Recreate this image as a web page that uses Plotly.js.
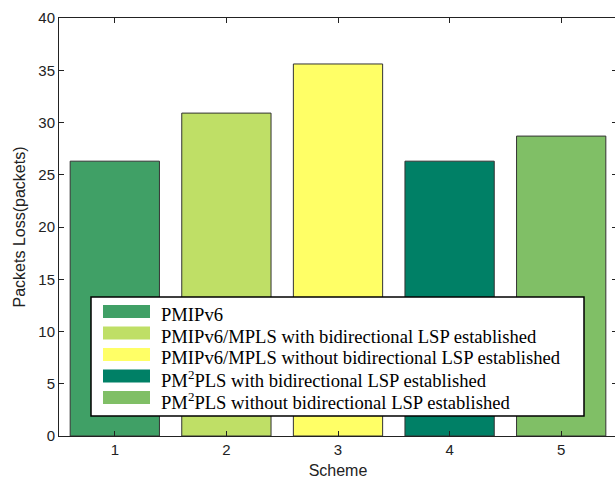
<!DOCTYPE html>
<html>
<head>
<meta charset="utf-8">
<script src="https://cdn.plot.ly/plotly-3.0.1.min.js"></script>
<style>
html,body{margin:0;padding:0;overflow:hidden;background:#fff;}
#chart{width:620px;height:479px;}
</style>
</head>
<body>
<div id="chart"></div>
<script>
// ---- data ----
const schemes = [1, 2, 3, 4, 5];
const seriesNames = [
  'PMIPv6',
  'PMIPv6/MPLS with bidirectional LSP established',
  'PMIPv6/MPLS without bidirectional LSP established',
  'PM<sup>2</sup>PLS with bidirectional LSP established',
  'PM<sup>2</sup>PLS without bidirectional LSP established'
];
const packetLoss = [26.3, 30.9, 35.6, 26.3, 28.7];
const barColors = ['#40a066', '#bfdf66', '#ffff66', '#008066', '#80bf66'];
const yTicks = [0, 5, 10, 15, 20, 25, 30, 35, 40];

// ---- geometry helpers (plot area in pixels) ----
const W = 620, H = 479;
const M = {l: 59, r: 3, t: 18, b: 43};
const PW = W - M.l - M.r, PH = H - M.t - M.b;
const px2x = p => (p - M.l) / PW;
const px2y = p => (H - M.b - p) / PH;

const traces = schemes.map((s, i) => ({
  type: 'bar',
  x: [s],
  y: [packetLoss[i]],
  width: 0.8,
  name: seriesNames[i],
  marker: {color: barColors[i], line: {color: '#333333', width: 1}},
  showlegend: false,
  hoverinfo: 'x+y'
}));

// custom legend (box, swatches, labels)
const shapes = [{
  type: 'rect', xref: 'paper', yref: 'paper',
  x0: px2x(91), x1: px2x(584), y0: px2y(297), y1: px2y(416),
  fillcolor: '#ffffff', line: {color: '#000000', width: 1.5}, layer: 'above'
}];
const annotations = [];
const rowY = [311.5, 333, 354.5, 376, 397.5];
seriesNames.forEach((n, i) => {
  shapes.push({
    type: 'rect', xref: 'paper', yref: 'paper',
    x0: px2x(103), x1: px2x(150), y0: px2y(rowY[i] - 6.5), y1: px2y(rowY[i] + 6.5),
    fillcolor: barColors[i], line: {width: 0}, layer: 'above'
  });
  annotations.push({
    xref: 'paper', yref: 'paper', x: px2x(159), y: px2y(rowY[i] + 3),
    xanchor: 'left', yanchor: 'middle', showarrow: false, text: n,
    font: {family: 'Liberation Serif, Times New Roman, serif', size: 18.6, color: '#000'}
  });
});

const axisCommon = {
  showline: true, linecolor: '#222', linewidth: 1, mirror: 'ticks',
  ticks: 'inside', ticklen: 5, tickcolor: '#222', showgrid: false, zeroline: false,
  tickfont: {family: 'Liberation Sans, Arial, sans-serif', size: 15, color: '#222'}
};

const layout = {
  width: W, height: H,
  margin: M,
  paper_bgcolor: '#ffffff', plot_bgcolor: '#ffffff',
  showlegend: false,
  xaxis: Object.assign({}, axisCommon, {
    range: [0.5, 5.5], tickvals: schemes, ticktext: schemes.map(String),
    title: {text: 'Scheme', standoff: 8, font: {family: 'Liberation Sans, Arial, sans-serif', size: 16, color: '#222'}}
  }),
  yaxis: Object.assign({}, axisCommon, {
    range: [0, 40], tickvals: yTicks, ticktext: yTicks.map(String),
    title: {text: 'Packets Loss(packets)', standoff: 8, font: {family: 'Liberation Sans, Arial, sans-serif', size: 16, color: '#222'}}
  }),
  shapes: shapes,
  annotations: annotations
};

Plotly.newPlot('chart', traces, layout, {displayModeBar: false, staticPlot: true});
</script>
</body>
</html>
